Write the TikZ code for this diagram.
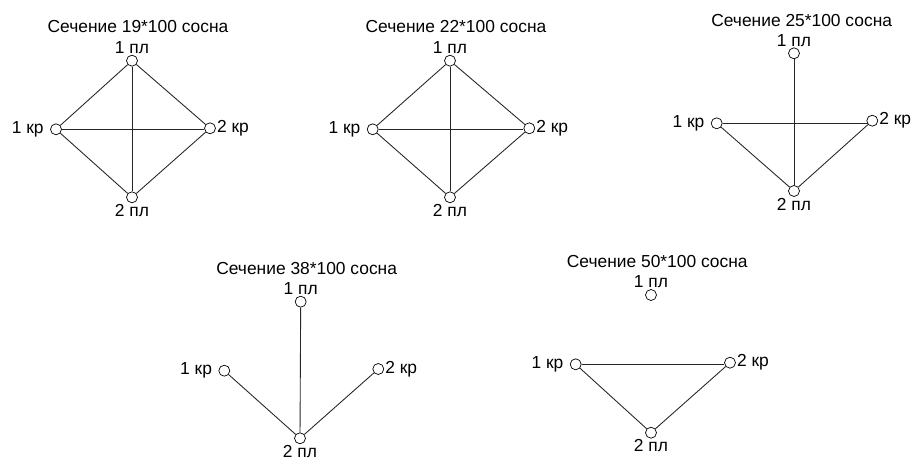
\documentclass[tikz,border=0pt]{standalone}
\usepackage{fontspec}
\setmainfont{Liberation Sans}

\tikzset{
	pt/.style={circle, draw, fill=white, inner sep=0pt, minimum size=0.22cm},
	edge/.style={draw=black!85, line width=0.5pt},
	ttl/.style={inner sep=0pt},
	every node/.style={font=\fontsize{9.9}{11}\selectfont},
	every label/.style={inner sep=0.5pt},
	lu/.style={label={[label distance=0pt]above:#1}},
	ld/.style={label={[label distance=0pt]below:#1}},
	ll/.style={label={[label distance=3pt]left:#1}},
	lr/.style={label={[label distance=0pt]right:#1}},
}

\begin{document}
\begin{tikzpicture}[x=0.02cm, y=-0.02cm]
	\useasboundingbox (0, 0) rectangle (914, 459);

	% Сечение 19*100
	\node[ttl] (t1) at (138, 27) {Сечение 19*100 сосна};
	\node[pt, lu=1 пл] (a1) at (132, 60.7) {};
	\node[pt, ll=1 кр] (a2) at (56, 129.3) {};
	\node[pt, lr=2 кр] (a3) at (210, 128.3) {};
	\node[pt, ld=2 пл] (a4) at (132, 197.3) {};
	\draw[edge] (a1) -- (a2) -- (a4) -- (a3) -- (a1);
	\draw[edge] (a1) -- (a4);
	\draw[edge] (a2) -- (a3.west |- a2);

	% Сечение 22*100
	\node[ttl] (t2) at (456, 27) {Сечение 22*100 сосна};
	\node[pt, lu=1 пл] (b1) at (450, 60.7) {};
	\node[pt, ll=1 кр] (b2) at (372.7, 129.3) {};
	\node[pt, lr=2 кр] (b3) at (529.3, 128.3) {};
	\node[pt, ld=2 пл] (b4) at (450, 197.3) {};
	\draw[edge] (b1) -- (b2) -- (b4) -- (b3) -- (b1);
	\draw[edge] (b1) -- (b4);
	\draw[edge] (b2) -- (b3.west |- b2);

	% Сечение 25*100
	\node[ttl] (t3) at (801.7, 20.7) {Сечение 25*100 сосна};
	\node[pt, lu=1 пл] (c1) at (794, 53.3) {};
	\node[pt, ll=1 кр] (c2) at (716.7, 123.3) {};
	\node[pt, lr=2 кр] (c3) at (872.3, 120.7) {};
	\node[pt, ld=2 пл] (c4) at (794, 191) {};
	\draw[edge] (c1) -- (c4);
	\draw[edge] (c2) -- (c3.south west |- c2);
	\draw[edge] (c2) -- (c4) -- (c3);

	% Сечение 38*100
	\node[ttl] (t4) at (306.7, 268.3) {Сечение 38*100 сосна};
	\node[pt, lu=1 пл] (d1) at (300.7, 301.7) {};
	\node[pt, ll=1 кр] (d2) at (224.3, 370.7) {};
	\node[pt, lr=2 кр] (d3) at (378.3, 369) {};
	\node[pt, ld=2 пл] (d4) at (300, 438.3) {};
	\draw[edge] (d1) -- (d4);
	\draw[edge] (d2) -- (d4) -- (d3);

	% Сечение 50*100
	\node[ttl] (t5) at (657.3, 261.7) {Сечение 50*100 сосна};
	\node[pt, lu=1 пл] (e1) at (651, 295) {};
	\node[pt, ll=1 кр] (e2) at (575.7, 364.3) {};
	\node[pt, lr=2 кр] (e3) at (730, 362.7) {};
	\node[pt, ld=2 пл] (e4) at (651, 432.7) {};
	\draw[edge] (e2) -- (e3.west |- e2);
	\draw[edge] (e2) -- (e4) -- (e3);

\end{tikzpicture}
\end{document}
